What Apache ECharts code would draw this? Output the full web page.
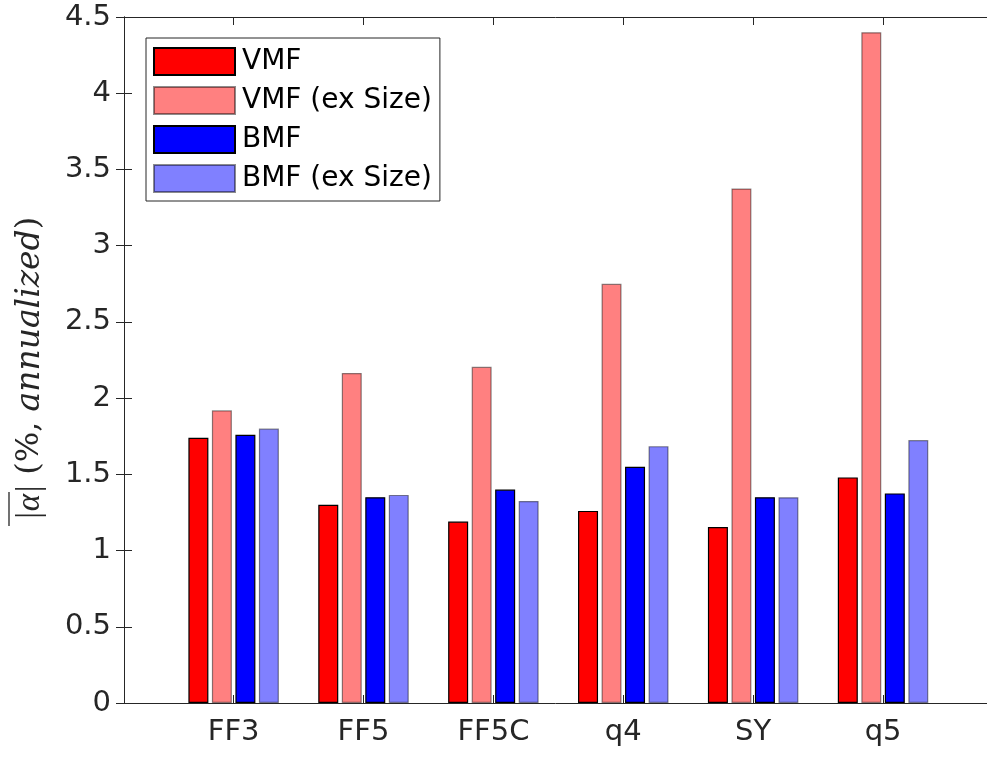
<!DOCTYPE html>
<html>
<head>
<meta charset="utf-8">
<script src="https://cdn.jsdelivr.net/npm/echarts@6/dist/echarts.min.js"></script>
<style>
html,body{margin:0;padding:0;background:#fff;}
#chart{width:987px;height:757px;}
</style>
</head>
<body>
<div id="chart"></div>
<script>
// ---- data ----
var categories = ['FF3', 'FF5', 'FF5C', 'q4', 'SY', 'q5'];
var vmf        = [1.74, 1.30, 1.19, 1.26, 1.155, 1.48];
var vmfExSize  = [1.92, 2.165, 2.205, 2.75, 3.375, 4.40];
var bmf        = [1.76, 1.35, 1.40, 1.55, 1.35, 1.375];
var bmfExSize  = [1.80, 1.365, 1.325, 1.685, 1.35, 1.725];
var seriesNames = ['VMF', 'VMF (ex Size)', 'BMF', 'BMF (ex Size)'];
var yTicks = [0, 0.5, 1, 1.5, 2, 2.5, 3, 3.5, 4, 4.5];

var axisColor = '#262626';
var chart = echarts.init(document.getElementById('chart'), null, {renderer: 'canvas'});

function barSeries(name, data, color, border) {
  return {
    name: name, type: 'bar', xAxisIndex: 2, yAxisIndex: 2, data: data,
    barWidth: 20, barGap: '17.5%',
    itemStyle: {color: color, borderColor: border, borderWidth: 1.2},
    emphasis: {disabled: true}
  };
}

var option = {
  animation: false,
  backgroundColor: '#ffffff',
  grid: [
    {left: 124, top: 17, right: -1, bottom: 54},
    {left: 168.7, top: 17, width: 779.3, bottom: 54}
  ],
  legend: {
    orient: 'vertical', left: 146, top: 38,
    itemWidth: 81, itemHeight: 27, itemGap: 10,
    padding: [9, 8, 8, 7],
    borderColor: axisColor, borderWidth: 1, backgroundColor: '#fff',
    icon: 'rect',
    textStyle: {fontFamily: 'DejaVu Sans', fontSize: 28, color: '#000', padding: [0, 0, 0, 2]},
    data: seriesNames
  },
  xAxis: [
    {gridIndex: 0, type: 'value', min: 0, max: 1, position: 'bottom',
     axisLine: {show: true, onZero: false, lineStyle: {color: axisColor, width: 1}},
     axisTick: {show: false}, axisLabel: {show: false}, splitLine: {show: false}},
    {gridIndex: 0, type: 'value', min: 0, max: 1, position: 'top',
     axisLine: {show: true, onZero: false, lineStyle: {color: axisColor, width: 1}},
     axisTick: {show: false}, axisLabel: {show: false}, splitLine: {show: false}},
    {gridIndex: 1, type: 'category', data: categories, position: 'bottom',
     axisLine: {show: false, onZero: false},
     axisTick: {show: true, inside: true, length: 8, alignWithLabel: true, lineStyle: {color: axisColor}},
     axisLabel: {fontFamily: 'DejaVu Sans', fontSize: 29, color: axisColor, margin: 15},
     splitLine: {show: false}},
    {gridIndex: 1, type: 'category', data: categories, position: 'top',
     axisLine: {show: false, onZero: false},
     axisTick: {show: true, inside: true, length: 8, alignWithLabel: true, lineStyle: {color: axisColor}},
     axisLabel: {show: false}, splitLine: {show: false}}
  ],
  yAxis: [
    {gridIndex: 0, type: 'value', min: 0, max: 4.5, interval: 0.5, position: 'left',
     axisLine: {show: true, lineStyle: {color: axisColor, width: 1}},
     axisTick: {show: true, inside: true, length: 8, lineStyle: {color: axisColor}},
     axisLabel: {fontFamily: 'DejaVu Sans', fontSize: 29, color: axisColor, margin: 13,
                 formatter: function (v) { return String(yTicks[Math.round(v / 0.5)]); }},
     splitLine: {show: false}},
    {gridIndex: 0, type: 'value', min: 0, max: 4.5, interval: 0.5, position: 'right',
     axisLine: {show: true, lineStyle: {color: axisColor, width: 1}},
     axisTick: {show: true, inside: true, length: 8, lineStyle: {color: axisColor}},
     axisLabel: {show: false}, splitLine: {show: false}},
    {gridIndex: 1, type: 'value', min: 0, max: 4.5, show: false, splitLine: {show: false}}
  ],
  series: [
    barSeries(seriesNames[0], vmf, '#ff0000', '#000000'),
    barSeries(seriesNames[1], vmfExSize, '#ff8080', 'rgba(0,0,0,0.45)'),
    barSeries(seriesNames[2], bmf, '#0000ff', '#000000'),
    barSeries(seriesNames[3], bmfExSize, '#8080ff', 'rgba(0,0,0,0.45)')
  ],
  graphic: [
    {
      type: 'group', x: 30, y: 368, rotation: Math.PI / 2,
      children: [
        {type: 'text', x: -159, y: 0,
         style: {
           text: '{a|\u2009|α|}{r| (%, }{m|annualized}{r|)}',
           textAlign: 'left', textVerticalAlign: 'middle',
           fill: '#262626',
           rich: {
             a: {fontFamily: 'Liberation Serif', fontStyle: 'italic', fontSize: 33, fill: '#262626'},
             m: {fontFamily: 'DejaVu Serif', fontStyle: 'italic', fontSize: 33, fill: '#262626'},
             r: {fontFamily: 'DejaVu Serif', fontSize: 32, fill: '#262626'}
           }
         }},
        {type: 'line', shape: {x1: -158, y1: -21, x2: -124, y2: -21},
         style: {stroke: '#262626', lineWidth: 1.3}}
      ]
    }
  ]
};
chart.setOption(option);
</script>
</body>
</html>
